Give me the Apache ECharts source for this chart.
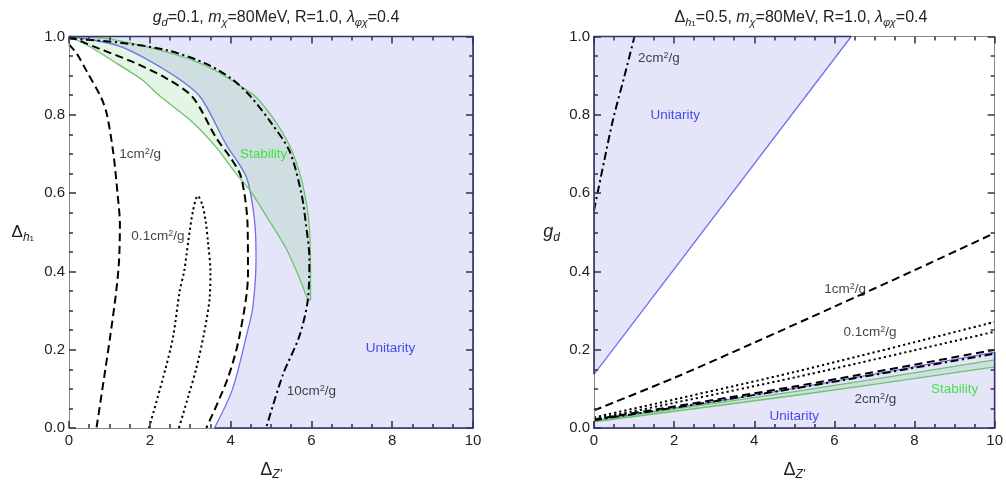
<!DOCTYPE html>
<html><head><meta charset="utf-8">
<script src="https://cdn.jsdelivr.net/npm/echarts@6/dist/echarts.min.js"></script>
<style>html,body{margin:0;padding:0;background:#fff}#c{width:1006px;height:486px}</style>
</head><body><div id="c"></div>
<script>
// ---------- Left panel (g_d = 0.1): x = Δ_Z', y = Δ_h1 ----------
const L_blue = [[0,1.0],[1.26,0.975],[2.45,0.91],[3.23,0.848],[3.89,0.724],[4.39,0.641],[4.59,0.533],[4.63,0.434],[4.55,0.309],[4.39,0.235],[4.05,0.10],[3.6,0]];
const L_greenInner = [[0,1.0],[0.5,0.975],[1.2,0.93],[1.8,0.89],[2.25,0.848],[3.06,0.781],[3.65,0.716],[4.14,0.649],[4.47,0.608],[4.88,0.542],[5.37,0.459],[5.7,0.384],[5.91,0.327]];
const L_greenOuter = [[0,1.0],[0.9,0.995],[1.75,0.978],[2.42,0.96],[3.1,0.938],[3.65,0.912],[4.2,0.876],[4.63,0.845],[5.13,0.78],[5.53,0.705],[5.83,0.6],[5.97,0.475],[5.98,0.327]];
const L_1cm = [[0,0.98],[0.2,0.955],[0.45,0.909],[0.8,0.843],[0.94,0.80],[1.1,0.70],[1.2,0.6],[1.26,0.52],[1.24,0.43],[1.17,0.35],[1.02,0.234],[0.9,0.15],[0.68,0]];
const L_1cmB = [[0,1.0],[0.77,0.968],[1.58,0.935],[2.41,0.893],[3.06,0.845],[3.65,0.74],[4.0,0.69],[4.26,0.641],[4.42,0.517],[4.43,0.393],[4.22,0.235],[3.93,0.127],[3.4,0]];
const L_10cm = [[0,0.995],[1.2,0.985],[2.42,0.965],[3.4,0.93],[4.05,0.89],[4.51,0.845],[5.0,0.78],[5.46,0.707],[5.75,0.6],[5.87,0.516],[5.95,0.434],[5.91,0.326],[5.7,0.234],[5.29,0.135],[4.88,0]];
const L_01cm = [[1.98,0],[2.39,0.152],[2.58,0.235],[2.74,0.35],[2.85,0.4],[2.95,0.475],[3.07,0.555],[3.19,0.593],[3.3,0.57],[3.38,0.53],[3.44,0.475],[3.5,0.40],[3.48,0.33],[3.33,0.235],[3.15,0.152],[2.95,0.08],[2.72,0]];

// ---------- Right panel (Δ_h1 = 0.5): x = Δ_Z', y = g_d ----------
const R_2cmSteep = [[0,0.556],[0.25,0.68],[0.48,0.79],[0.75,0.895],[1.01,1.0]];
const R_blueUpper = [[0,0.137],[6.42,1.0]];
const R_1cm = [[0,0.045],[2,0.128],[4,0.218],[6,0.31],[8,0.403],[10,0.498]];
const R_01cmA = [[0,0.027],[5,0.143],[10,0.271]];
const R_01cmB = [[0,0.022],[5,0.129],[10,0.246]];
const R_2cmDashed = [[0,0.022],[5,0.106],[10,0.2]];
const R_2cmDashDot = [[0,0.02],[5,0.101],[10,0.19]];
const R_blueLower = [[0,0.018],[5,0.101],[10,0.194]];
const R_greenUpper = [[0,0.019],[5,0.093],[10,0.174]];
const R_greenLower = [[0,0.016],[5,0.083],[10,0.156]];

// ---------- Ticks ----------
const xTicks = [0,2,4,6,8,10];
const yTicks = [0,0.2,0.4,0.6,0.8,1.0];

// ---------- Annotations ----------
const annLeft = [
  ['1cm{s|2}/g', 1.76, 0.70, 'k'], ['0.1cm{s|2}/g', 2.2, 0.49, 'k'], ['Stability', 4.82, 0.70, 'g'],
  ['10cm{s|2}/g', 6.0, 0.094, 'k'], ['Unitarity', 7.96, 0.203, 'b']
];
const annRight = [
  ['2cm{s|2}/g', 1.62, 0.944, 'k'], ['Unitarity', 2.03, 0.80, 'b'], ['1cm{s|2}/g', 6.27, 0.354, 'k'],
  ['0.1cm{s|2}/g', 6.89, 0.244, 'k'], ['2cm{s|2}/g', 7.02, 0.074, 'k'], ['Stability', 9.0, 0.10, 'g'],
  ['Unitarity', 5.0, 0.03, 'b']
];

const FONT = '"Liberation Sans", Arial, sans-serif';
const LAV = '#e5e5fa', NAVY = '#33336e', BLUE = '#7070f0', GREEN = '#6cc46c';
const STAB_FILL = 'rgba(110,200,110,0.18)';
const TICK = '#333';
const annColor = {k:'#111', g:'#22dd22', b:'#2020ee'};
const DASH = [8,4.5], DOT = [2.2,3], DASHDOT = [8,3.5,2.2,3.5];

const chart = echarts.init(document.getElementById('c'));

const grids = [
  {left:69, right:1006-473, top:36.5, bottom:486-441},
  {left:594, right:1006-998, top:36.5, bottom:486-440}
];

function xAx(gi, pos) {
  return {type:'value', gridIndex:gi, min:0, max:10, interval:2, position:pos, zlevel:1,
    axisLine:{show:true, onZero:false, lineStyle:{color:'#888', width:1}},
    axisTick:{show:true, inside:true, length:7, lineStyle:{color:TICK, width:1.5}},
    minorTick:{show:true, splitNumber:4, length:4, lineStyle:{color:TICK, width:1.5}},
    splitLine:{show:false}, minorSplitLine:{show:false},
    axisLabel: pos==='bottom' ? {show:true, margin:5, fontSize:15, color:'#222', fontFamily:FONT, showMaxLabel:true, showMinLabel:true,
      formatter: v => String(xTicks.find(t => Math.abs(t-v)<1e-9) ?? v)} : {show:false},
    name: pos==='bottom' ? '{n|Δ}{si|Z\'}' : '',
    nameLocation:'middle', nameGap:31,
    nameTextStyle:{rich:{n:{fontSize:18, fontFamily:FONT, color:'#222', lineHeight:22, verticalAlign:'middle'},
                         si:{fontSize:12, fontFamily:FONT, fontStyle:'italic', color:'#222', lineHeight:12, verticalAlign:'bottom'}}}
  };
}
function yAx(gi, pos, nameRich, gap) {
  return {type:'value', gridIndex:gi, min:0, max:1, interval:0.2, position:pos, zlevel:1,
    axisLine:{show:true, onZero:false, lineStyle:{color:'#888', width:1}},
    axisTick:{show:true, inside:true, length:7, lineStyle:{color:TICK, width:1.5}},
    minorTick:{show:true, splitNumber:4, length:4, lineStyle:{color:TICK, width:1.5}},
    splitLine:{show:false}, minorSplitLine:{show:false},
    axisLabel: pos==='left' ? {show:true, margin:4, fontSize:15, color:'#222', fontFamily:FONT, showMaxLabel:true,
      formatter: v => v.toFixed(1)} : {show:false},
    name: pos==='left' ? nameRich : '',
    nameLocation:'middle', nameGap:gap, nameRotate:0,
    nameTextStyle:{align:'right', rich:{n:{fontSize:17, fontFamily:FONT, color:'#222', lineHeight:22, verticalAlign:'middle'},
                         i:{fontSize:18, fontFamily:FONT, fontStyle:'italic', color:'#222', lineHeight:22, verticalAlign:'middle'},
                         si:{fontSize:12, fontFamily:FONT, fontStyle:'italic', color:'#222', lineHeight:12, verticalAlign:'bottom'},
                         ss:{fontSize:8, fontFamily:FONT, color:'#222', lineHeight:8, verticalAlign:'bottom'}}}
  };
}

function polyFill(gi, pts, fill, z) {
  return {type:'custom', xAxisIndex:gi*2, yAxisIndex:gi*2, data:[0], silent:true, z:z, clip:true,
    renderItem:(params, api) => ({type:'polygon', shape:{points: pts.map(p => api.coord(p))}, style:{fill:fill}})};
}
function polyEdge(gi, pts, color) {
  return {type:'custom', xAxisIndex:gi*2, yAxisIndex:gi*2, data:[0], silent:true, zlevel:2, z:20,
    renderItem:(params, api) => ({type:'polyline', shape:{points: pts.map(p => api.coord(p))}, style:{stroke:color, lineWidth:1.6, fill:null}})};
}
function line(gi, data, color, width, type, smooth, z) {
  return {type:'line', xAxisIndex:gi*2, yAxisIndex:gi*2, data:data, showSymbol:false, symbol:'none', silent:true,
    smooth:smooth, z:z||6, lineStyle:{color:color, width:width, type:type, cap:'butt'}, animation:false};
}
function annSeries(gi, ann) {
  return {type:'scatter', xAxisIndex:gi*2, yAxisIndex:gi*2, symbolSize:0, silent:true, z:30,
    data: ann.map(a => ({value:[a[1], a[2]], name:a[0],
      label:{show:true, position:'inside', formatter:p => p.name,
        color:annColor[a[3]], fontSize:13.5, fontFamily:FONT,
        rich:{s:{fontSize:9, fontFamily:FONT, color:annColor[a[3]], verticalAlign:'top', lineHeight:9}}}}))};
}

// polygons
const L_unitPoly = L_blue.concat([[10,0],[10,1]]);
const L_unitEdge = [[3.6,0],[10,0],[10,1],[0,1]];
const L_stabPoly = L_greenInner.concat(L_greenOuter.slice().reverse());
const R_unitUpPoly = R_blueUpper.concat([[0,1]]);
const R_unitUpEdge = [[6.42,1],[0,1],[0,0.137]];
const R_unitLowPoly = R_blueLower.concat([[10,0],[0,0]]);
const R_unitLowEdge = [[10,0.194],[10,0],[0,0],[0,0.018]];
const R_stabPoly = R_greenUpper.concat(R_greenLower.slice().reverse());

const titleRich = {
  n:{fontSize:16, fontFamily:FONT, fontWeight:'normal', color:'#222', lineHeight:20, verticalAlign:'middle'},
  i:{fontSize:16, fontFamily:FONT, fontWeight:'normal', fontStyle:'italic', color:'#222', lineHeight:20, verticalAlign:'middle'},
  si:{fontSize:11, fontFamily:FONT, fontWeight:'normal', fontStyle:'italic', color:'#222', lineHeight:11, verticalAlign:'bottom'},
  ss:{fontSize:8, fontFamily:FONT, fontWeight:'normal', color:'#222', lineHeight:8, verticalAlign:'bottom'}
};

const option = {
  animation:false,
  backgroundColor:'#fff',
  title:[
    {text:'{i|g}{si|d}{n|=0.1, }{i|m}{si|χ}{n|=80MeV, R=1.0, }{i|λ}{si|φχ}{n|=0.4}', left:271, top:3, textAlign:'center', textStyle:{fontWeight:'normal', rich:titleRich}},
    {text:'{n|Δ}{si|h}{ss|1}{n|=0.5, }{i|m}{si|χ}{n|=80MeV, R=1.0, }{i|λ}{si|φχ}{n|=0.4}', left:796, top:3, textAlign:'center', textStyle:{fontWeight:'normal', rich:titleRich}}
  ],
  grid:grids,
  xAxis:[xAx(0,'bottom'), xAx(0,'top'), xAx(1,'bottom'), xAx(1,'top')],
  yAxis:[yAx(0,'left','{n|Δ}{si|h}{ss|1}',35), yAx(0,'right','',0), yAx(1,'left','{i|g}{si|d}',34), yAx(1,'right','',0)],
  series:[
    // left panel
    polyFill(0, L_unitPoly, LAV, 1),
    polyFill(0, L_stabPoly, STAB_FILL, 2),
    polyEdge(0, L_unitEdge, NAVY),
    line(0, L_blue, BLUE, 1.3, 'solid', 0.3, 5),
    line(0, L_greenInner, GREEN, 1.3, 'solid', 0.3, 5),
    line(0, L_greenOuter, GREEN, 1.3, 'solid', 0.3, 5),
    line(0, [[5.91,0.327],[5.98,0.327]], GREEN, 1.3, 'solid', false, 5),
    line(0, L_1cm, '#000', 2, DASH, 0.3),
    line(0, L_1cmB, '#000', 2, DASH, 0.3),
    line(0, L_10cm, '#000', 2, DASHDOT, 0.3),
    line(0, L_01cm, '#000', 2, DOT, 0.3),
    annSeries(0, annLeft),
    // right panel
    polyFill(1, R_unitUpPoly, LAV, 1),
    polyFill(1, R_unitLowPoly, LAV, 1),
    polyFill(1, R_stabPoly, STAB_FILL, 2),
    polyEdge(1, R_unitUpEdge, NAVY),
    polyEdge(1, R_unitLowEdge, NAVY),
    line(1, R_blueUpper, BLUE, 1.3, 'solid', false, 5),
    line(1, R_blueLower, BLUE, 1.3, 'solid', 0.3, 5),
    line(1, R_greenUpper, GREEN, 1.3, 'solid', 0.3, 5),
    line(1, R_greenLower, GREEN, 1.3, 'solid', 0.3, 5),
    line(1, R_2cmSteep, '#000', 2, DASHDOT, 0.3),
    line(1, R_1cm, '#000', 2, DASH, 0.3),
    line(1, R_01cmA, '#000', 2, DOT, 0.3),
    line(1, R_01cmB, '#000', 2, DOT, 0.3),
    line(1, R_2cmDashed, '#000', 2, DASH, 0.3),
    line(1, R_2cmDashDot, '#000', 2, DASHDOT, 0.3),
    annSeries(1, annRight)
  ]
};
chart.setOption(option);
</script></body></html>
